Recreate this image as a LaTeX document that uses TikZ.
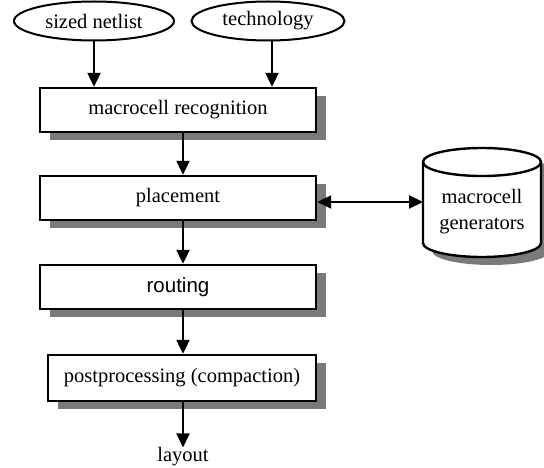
\documentclass[tikz,border=0pt]{standalone}
\usepackage{fontspec}
\setmainfont{Liberation Serif}
\newfontfamily\arialfont{Liberation Sans}
\usetikzlibrary{arrows.meta,shapes.geometric,shadows}
\begin{document}
\begin{tikzpicture}[x=1pt,y=1pt,
  txt/.style={font=\fontsize{20.5}{26}\selectfont},
  proc/.style={draw, line width=2.4pt, fill=white, minimum width=276pt, minimum height=44pt, inner sep=0pt, txt,
    general shadow={fill=black!52, shadow xshift=10pt, shadow yshift=-8pt}},
  inp/.style={draw, ellipse, line width=2pt, minimum height=39pt, inner sep=0pt, txt},
  flow/.style={line width=2.2pt, -{Triangle[length=14pt,width=13pt]}},
  bothflow/.style={line width=2.2pt, {Triangle[length=14pt,width=13pt]}-{Triangle[length=14pt,width=13pt]}},
  shade/.style={fill=black!52},
  cylline/.style={line width=2.4pt}
]
\useasboundingbox (0,0) rectangle (544,-468);

% inputs
\node[inp, minimum width=160pt] (e1) at (94,-21) {sized netlist};
\node[inp, minimum width=153pt] (e2) at (268,-21) {technology};

% process boxes
\node[proc] (box1) at (178,-110) {macrocell recognition};
\node[proc] (place) at (178,-198) {placement};
\node[proc, font=\arialfont\fontsize{20.5}{26}\selectfont] (route) at (178,-287) {routing};
\node[proc, minimum width=268pt, minimum height=46pt] (post) at (182,-378) {postprocessing (compaction)};
\node[txt, inner sep=0pt] (layout) at (183,-457) {layout};

% cylinder (macrocell generators)
\begin{scope}[shift={(9,-8)}]
  \path[shade] (423,-162) -- (423,-243) arc[start angle=180,end angle=360,x radius=59,y radius=14]
    -- (541,-162) arc[start angle=0,end angle=180,x radius=59,y radius=14] -- cycle;
\end{scope}
\draw[cylline, fill=white] (423,-162) -- (423,-243) arc[start angle=180,end angle=360,x radius=59,y radius=14]
    -- (541,-162) arc[start angle=0,end angle=180,x radius=59,y radius=14] -- cycle;
\draw[cylline] (423,-162) arc[start angle=180,end angle=360,x radius=59,y radius=14];
\node[txt, align=center, inner sep=0pt] (gen) at (482,-212) {macrocell\\generators};
\coordinate (cylW) at (423,-202);

% connectors
\coordinate (ax) at (183,0);
\draw[flow] (e1.south) -- (e1.south |- box1.north);
\draw[flow] ([xshift=4pt]e2.south) -- ([xshift=4pt]e2.south |- box1.north);
\draw[flow] (box1.south -| ax) -- (place.north -| ax);
\draw[flow] (place.south -| ax) -- (route.north -| ax);
\draw[flow] (route.south -| ax) -- (post.north -| ax);
\draw[flow] (post.south -| ax) -- (layout.north);
\draw[bothflow] (cylW -| place.east) -- (cylW);
\end{tikzpicture}
\end{document}
